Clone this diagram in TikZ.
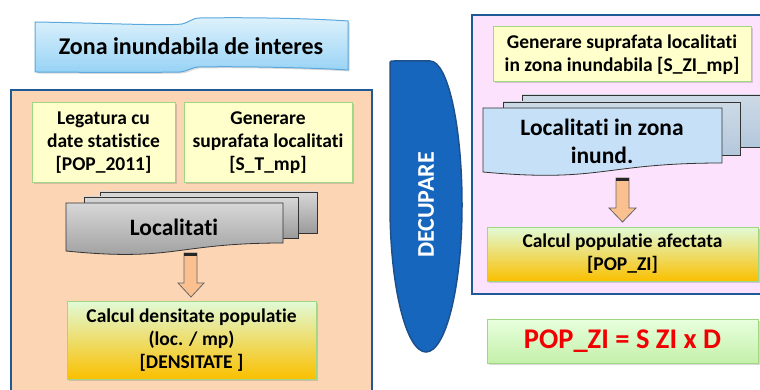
\documentclass[tikz,border=0pt]{standalone}
\usepackage{fontspec}
\setmainfont{Carlito}[Ligatures=NoCommon]
\usetikzlibrary{shadows}
\definecolor{peach}{RGB}{252,213,180}
\definecolor{pinkbg}{RGB}{252,226,252}
\definecolor{frame}{RGB}{31,90,150}
\definecolor{ylw}{RGB}{255,255,204}
\definecolor{grnb}{RGB}{160,215,130}
\definecolor{arrowfill}{RGB}{250,192,144}
\definecolor{decblue}{RGB}{22,102,190}
\definecolor{decedge}{RGB}{30,80,140}
\definecolor{ttop}{RGB}{222,242,252}
\definecolor{tbot}{RGB}{150,210,245}
\definecolor{tedge}{RGB}{90,168,220}
\definecolor{gtop}{RGB}{225,250,215}
\definecolor{gmid}{RGB}{238,238,150}
\definecolor{gbot}{RGB}{250,192,0}
\definecolor{ftop}{RGB}{232,255,222}
\definecolor{fbot}{RGB}{196,240,170}
\definecolor{graytop}{RGB}{215,215,215}
\definecolor{graybot}{RGB}{155,155,155}
\definecolor{bluefront}{RGB}{198,224,247}
\definecolor{blueback}{RGB}{205,218,230}
\definecolor{bluebackb}{RGB}{180,200,220}
\definecolor{popred}{RGB}{240,0,0}
\tikzset{
  panel/.style={draw=frame, line width=2.2pt},
  shd/.style={drop shadow={opacity=0.3, shadow xshift=1.5pt, shadow yshift=-1.5pt}},
  ybox/.style={draw=grnb, line width=1pt, fill=ylw, shd, inner sep=0pt, align=center,
    font=\fontsize{19.5}{23}\selectfont\bfseries},
  gbox/.style={draw=grnb, line width=1pt, shd, top color=gtop, middle color=gmid, bottom color=gbot,
    inner sep=0pt, align=center, font=\fontsize{19.5}{23}\selectfont\bfseries},
  sheetgray/.style={draw=black!80, line width=0.8pt, top color=graytop, bottom color=graybot},
  sheetblue/.style={draw=black!80, line width=0.8pt, top color=blueback, bottom color=bluebackb},
  frontblue/.style={draw=black!80, line width=0.8pt, fill=bluefront},
  blockarrow/.style={draw=black!60, line width=0.8pt, fill=arrowfill},
  bigtext/.style={align=center, font=\fontsize{23.5}{28}\selectfont\bfseries},
}
\begin{document}
\begin{tikzpicture}[x=1pt,y=-1pt]
\useasboundingbox (0,0) rectangle (760,390);
\clip (0,0) rectangle (760,390);
% panels
\path[panel, fill=peach] (11,90) rectangle (372,400);
\path[panel, fill=pinkbg] (472,15) rectangle (775,294);
% title banner
\path[draw=tedge, line width=1pt, top color=ttop, bottom color=tbot, shd]
  (35,22) .. controls (100,23) and (165,26) .. (182,24)
  .. controls (190,22) and (192,18) .. (200,18)
  .. controls (260,17) and (320,19) .. (348,21)
  -- (348,70)
  .. controls (320,68) and (240,66) .. (198,67)
  .. controls (190,68) and (188,71) .. (180,72)
  .. controls (120,73) and (70,72) .. (35,72) -- cycle;
\node[align=center, font=\fontsize{24}{28}\selectfont\bfseries] (title) at (191,46) {Zona inundabila de interes};
% left yellow boxes
\node[ybox, minimum width=143pt, minimum height=80pt] (leg) at (103.5,143)
  {Legatura cu\\date statistice\\{[}POP\_2011{]}};
\node[ybox, minimum width=168pt, minimum height=80pt] (gen) at (268,143)
  {Generare\\suprafata localitati\\{[}S\_T\_mp{]}};
% left stack
\path[sheetgray] (100,192) rectangle (317,233);
\path[sheetgray] (84,197) rectangle (298,238);
\path[sheetgray] (66,203) -- (283,203) -- (283,243)
  .. controls (175,243) and (175,262) .. (66,251) -- cycle;
\node[bigtext] (loc) at (174,227) {Localitati};
% left arrow
\path[blockarrow] (184,253) -- (197,253) -- (197,283) -- (204,283) -- (191,297)
  -- (178,283) -- (184,283) -- cycle;
\fill[black!85] (184,253) rectangle (197,256);
% densitate
\node[gbox, minimum width=249pt, minimum height=78pt] (dens) at (191.5,340)
  {Calcul densitate populatie\\(loc. / mp)\\{[}DENSITATE {]}};
% DECUPARE
\path[draw=decedge, line width=1.5pt, fill=decblue]
  (390,205) -- (390,65) .. controls (390,61) .. (394,61) -- (430,61)
  .. controls (447.7,61) and (462,125.5) .. (462,205)
  .. controls (462,286) and (445.9,352) .. (426,352)
  .. controls (406.1,352) and (390,286) .. (390,205) -- cycle;
\node[rotate=90, text=white, font=\fontsize{24}{28}\selectfont\bfseries] (dec) at (426,205) {DECUPARE};
% right yellow box
\node[ybox, minimum width=258pt, minimum height=55pt] (genzi) at (622,54.5)
  {Generare suprafata localitati\\in zona inundabila {[}S\_ZI\_mp{]}};
% right stack
\path[sheetblue] (522,95) rectangle (775,147);
\path[sheetblue] (503,102) rectangle (740,155);
\path[frontblue] (483,108) -- (722,108) -- (722,163)
  .. controls (602,163) and (602,183) .. (483,172) -- cycle;
\node[bigtext] (locz) at (602,141) {Localitati in zona\\inund.};
% right arrow
\path[blockarrow] (616,178) -- (629,178) -- (629,208) -- (636,208) -- (622.5,222)
  -- (609,208) -- (616,208) -- cycle;
\fill[black!85] (616,178) rectangle (629,181);
% calcul populatie
\node[gbox, minimum width=271pt, minimum height=54pt] (popzi) at (622.5,254)
  {Calcul populatie afectata\\{[}POP\_ZI{]}};
% formula
\node[draw=grnb, line width=1pt, shd, top color=ftop, bottom color=fbot,
  minimum width=271pt, minimum height=44pt, inner sep=0pt, text=popred,
  font=\fontsize{28.5}{32}\selectfont\bfseries] (form) at (622.5,341) {POP\_ZI = S ZI x D};
\end{tikzpicture}
\end{document}
